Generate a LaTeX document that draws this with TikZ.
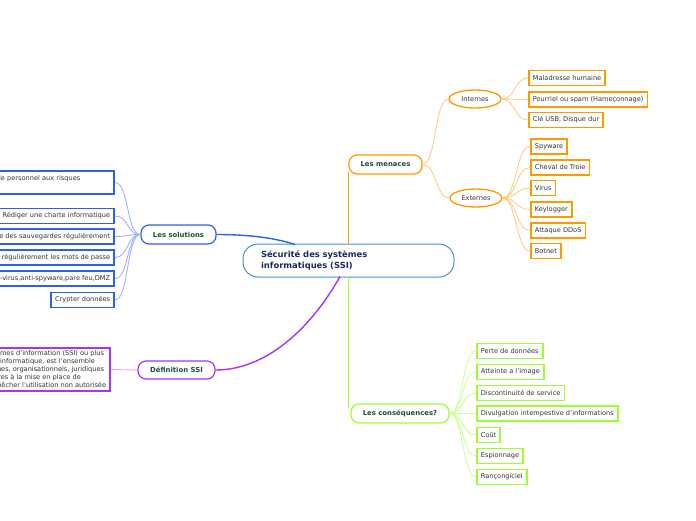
\documentclass[tikz,border=0pt]{standalone}
\usepackage{fontspec}
\setmainfont{DejaVu Sans}
\usetikzlibrary{shapes.geometric,calc}
\definecolor{cblue}{HTML}{2F5FEF}
\definecolor{cbluel}{HTML}{9DB5FF}
\definecolor{corange}{HTML}{FF9900}
\definecolor{corangel}{HTML}{FFCC88}
\definecolor{cgreen}{HTML}{99FF33}
\definecolor{cgreenl}{HTML}{CCFF99}
\definecolor{cpurple}{HTML}{A533FF}
\definecolor{cpurplel}{HTML}{E2A8FF}
\definecolor{croot}{HTML}{4A90D0}
\definecolor{ctitle}{HTML}{1E4D3C}
\definecolor{croottext}{HTML}{1A2B5C}
\definecolor{cleaf}{HTML}{333333}
\tikzset{
  leaf/.style={draw, fill=white, line width=1.8pt, rectangle, inner xsep=4pt, inner ysep=0pt,
    minimum height=15pt, text=cleaf, font=\fontsize{6.6}{8.2}\selectfont},
  title/.style={draw, fill=white, line width=1.2pt, rectangle, rounded corners=8pt,
    inner sep=0pt, text=ctitle, font=\fontsize{6.9}{8}\selectfont\bfseries},
  oval/.style={draw=corange, fill=white, line width=1.3pt, ellipse, inner sep=0pt,
    minimum width=52pt, minimum height=18pt, text=cleaf, font=\fontsize{6.6}{8}\selectfont},
  link/.style={line width=0.9pt},
  mainlink/.style={line width=1.4pt}
}
\begin{document}
\begin{tikzpicture}[x=1pt,y=-1pt]
\useasboundingbox (0,0) rectangle (696,520);
% root
\node[draw=croot, fill=white, line width=1pt, rounded corners=15pt, minimum width=211pt, minimum height=33pt,
  inner xsep=18pt, text width=175pt, align=left, text=croottext, font=\fontsize{8.4}{11}\selectfont\bfseries]
  (root) at (348.5,260.5) {Sécurité des systèmes\\informatiques (SSI)};
% titles
\node[title, draw=corange, minimum width=73pt, minimum height=19pt] (men) at (385.5,164.5) {Les menaces};
\node[title, draw=cblue, minimum width=75pt, minimum height=19pt] (sol) at (178.5,234.5) {Les solutions};
\node[title, draw=cpurple, minimum width=77pt, minimum height=18pt] (def) at (176.5,370) {Définition SSI};
\node[title, draw=cgreen, minimum width=98pt, minimum height=19pt] (cons) at (400,413.5) {Les conséquences?};
% menaces
\node[oval] (int) at (475,99) {Internes};
\node[oval] (ext) at (476,198) {Externes};
\node[leaf, draw=corange, anchor=west] (mal) at (528,78) {Maladresse humaine};
\node[leaf, draw=corange, anchor=west] (pour) at (528,99.5) {Pourriel ou spam (Hameçonnage)};
\node[leaf, draw=corange, anchor=west] (cle) at (528,120) {Clé USB, Disque dur};
\node[leaf, draw=corange, anchor=west] (spy) at (530,146.5) {Spyware};
\node[leaf, draw=corange, anchor=west] (chev) at (530,167.5) {Cheval de Troie};
\node[leaf, draw=corange, anchor=west] (vir) at (530,188) {Virus};
\node[leaf, draw=corange, anchor=west] (key) at (530,209.5) {Keylogger};
\node[leaf, draw=corange, anchor=west] (ddos) at (530,230.5) {Attaque DDoS};
\node[leaf, draw=corange, anchor=west] (bot) at (530,251) {Botnet};
% consequences
\node[leaf, draw=cgreen, anchor=west] (c1) at (476,351) {Perte de données};
\node[leaf, draw=cgreen, anchor=west] (c2) at (476,372) {Atteinte a l'image};
\node[leaf, draw=cgreen, anchor=west] (c3) at (476,393) {Discontinuité de service};
\node[leaf, draw=cgreen, anchor=west] (c4) at (476,413.5) {Divulgation intempestive d'informations};
\node[leaf, draw=cgreen, anchor=west] (c5) at (476,435) {Coût};
\node[leaf, draw=cgreen, anchor=west] (c6) at (476,456) {Espionnage};
\node[leaf, draw=cgreen, anchor=west] (c7) at (476,477) {Rançongiciel};
% solutions
\node[leaf, draw=cblue, anchor=east, minimum height=23pt, text width=184pt, align=left] (s1) at (115,182.5)
  {Sensibiliser et former le personnel aux risques\\informatiques};
\node[leaf, draw=cblue, anchor=east] (s2) at (115,216) {Rédiger une charte informatique};
\node[leaf, draw=cblue, anchor=east] (s3) at (115,236.5) {Faire des sauvegardes régulièrement};
\node[leaf, draw=cblue, anchor=east] (s4) at (115,257.5) {Changer régulièrement les mots de passe};
\node[leaf, draw=cblue, anchor=east] (s5) at (115,278.5) {Installer anti-virus,anti-spyware,pare feu,DMZ};
\node[leaf, draw=cblue, anchor=east] (s6) at (115,300) {Crypter données};
% definition text
\node[leaf, draw=cpurple, anchor=east, align=left, inner ysep=2pt] (d1) at (111,369.5)
  {La sécurité des systèmes d'information (SSI) ou plus\\simplement sécurité informatique, est l'ensemble\\des moyens techniques, organisationnels, juridiques\\et humains nécessaires à la mise en place de\\moyens visant à empêcher l'utilisation non autorisée};
% main connectors
\coordinate (rb) at (295,244.5);
\coordinate (ro) at (348.5,244.5);
\coordinate (rg) at (348.5,276.5);
\coordinate (rp) at (340,276.5);
\draw[mainlink, cblue] (sol.east) .. controls (250,234.5) and (275,238) .. (rb);
\draw[mainlink, corange] (ro) -- (ro |- men.south) -- ++(0,-3);
\draw[mainlink, cgreen] (rg) -- (rg |- cons.north) -- ++(0,5);
\draw[mainlink, cpurple] (rp) .. controls (310,330) and (265,370) .. (def.east);
% sub connectors
\foreach \t in {int,ext}
  \draw[link, corangel] (men.east) .. controls +(14,0) and +(-14,0) .. (\t.west);
\foreach \t in {mal,pour,cle}
  \draw[link, corangel] (int.east) .. controls +(14,0) and +(-14,0) .. (\t.west);
\foreach \t in {spy,chev,vir,key,ddos,bot}
  \draw[link, corangel] (ext.east) .. controls +(14,0) and +(-14,0) .. (\t.west);
\foreach \t in {c1,c2,c3,c4,c5,c6,c7}
  \draw[link, cgreenl] (cons.east) .. controls +(14,0) and +(-14,0) .. (\t.west);
\foreach \t in {s1,s2,s3,s4,s5,s6}
  \draw[link, cbluel] (sol.west) .. controls +(-14,0) and +(14,0) .. (\t.east);
\draw[link, cpurplel] (def.west) -- (d1.east);
\end{tikzpicture}
\end{document}
